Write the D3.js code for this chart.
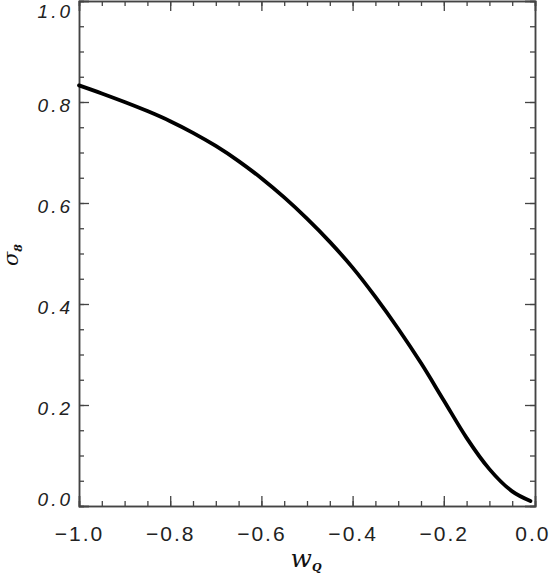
<!DOCTYPE html>
<html>
<head>
<meta charset="utf-8">
<script src="https://cdn.jsdelivr.net/npm/d3@7"></script>
<style>
  html, body { margin: 0; padding: 0; background: #fff; }
  svg { display: block; }
  .tick text { font-family: "Liberation Sans", Arial, sans-serif; fill: #222; }
</style>
</head>
<body>
<div id="chart"></div>
<script>
// sigma_8 against w_Q
var wValues = [-1.00, -0.95, -0.90, -0.85, -0.80, -0.75, -0.70, -0.65, -0.60, -0.55,
               -0.50, -0.45, -0.40, -0.35, -0.30, -0.25, -0.20, -0.15, -0.10, -0.05, -0.01];
var sigma8 = [0.833, 0.817, 0.800, 0.782, 0.762, 0.739, 0.713, 0.683, 0.649, 0.611,
              0.569, 0.523, 0.472, 0.414, 0.351, 0.283, 0.209, 0.135, 0.073, 0.029, 0.010];

var xMajor = [-1.0, -0.8, -0.6, -0.4, -0.2, 0.0];
var yMajor = [0.0, 0.2, 0.4, 0.6, 0.8, 1.0];

var W = 551, H = 576;
var margin = { left: 79, right: 16, top: 1, bottom: 70 };

var svg = d3.select('#chart').append('svg')
    .attr('width', W).attr('height', H);

var x = d3.scaleLinear().domain([-1, 0]).range([margin.left, W - margin.right]);
var y = d3.scaleLinear().domain([0, 1]).range([H - margin.bottom, margin.top]);

var fmt = d3.format('.1f');
var xMinor = d3.range(-1, 0.001, 0.05);
var yMinor = d3.range(0, 1.001, 0.05);

function styleAxis(g) {
    g.select('.domain').attr('stroke', '#444').attr('stroke-width', 1.5);
    g.selectAll('.tick line').attr('stroke', '#444').attr('stroke-width', 1.3);
}

// Minor ticks on all four sides
svg.append('g').attr('transform', 'translate(0,' + y(0) + ')')
    .call(d3.axisBottom(x).tickValues(xMinor).tickSize(-5).tickFormat(''))
    .call(styleAxis);
svg.append('g').attr('transform', 'translate(0,' + y(1) + ')')
    .call(d3.axisTop(x).tickValues(xMinor).tickSize(-5).tickFormat(''))
    .call(styleAxis);
svg.append('g').attr('transform', 'translate(' + x(-1) + ',0)')
    .call(d3.axisLeft(y).tickValues(yMinor).tickSize(-5).tickFormat(''))
    .call(styleAxis);
svg.append('g').attr('transform', 'translate(' + x(0) + ',0)')
    .call(d3.axisRight(y).tickValues(yMinor).tickSize(-5).tickFormat(''))
    .call(styleAxis);

// Major ticks
var xAxis = svg.append('g').attr('transform', 'translate(0,' + y(0) + ')')
    .call(d3.axisBottom(x).tickValues(xMajor).tickSize(-10).tickPadding(20).tickFormat(fmt))
    .call(styleAxis);
xAxis.selectAll('.tick text')
    .attr('font-size', 21).attr('letter-spacing', '2px');
// the last label sits against the right edge of the window
xAxis.selectAll('.tick text').filter(function(d) { return d === 0; })
    .attr('text-anchor', 'end').attr('x', W - 1 - x(0));

svg.append('g').attr('transform', 'translate(0,' + y(1) + ')')
    .call(d3.axisTop(x).tickValues(xMajor).tickSize(-10).tickFormat(''))
    .call(styleAxis);

var yAxis = svg.append('g').attr('transform', 'translate(' + x(-1) + ',0)')
    .call(d3.axisLeft(y).tickValues(yMajor).tickSize(-10).tickPadding(6).tickFormat(fmt))
    .call(styleAxis);
yAxis.selectAll('.tick text')
    .attr('font-size', 19).attr('font-style', 'italic').attr('letter-spacing', '3px')
    .attr('dy', function(d) {
        if (d === 1) return '0.85em';
        if (d === 0) return '-0.05em';
        return '0.5em';
    });

svg.append('g').attr('transform', 'translate(' + x(0) + ',0)')
    .call(d3.axisRight(y).tickValues(yMajor).tickSize(-10).tickFormat(''))
    .call(styleAxis);

// Curve
var pts = wValues.map(function(w, i) { return [w, sigma8[i]]; });
var line = d3.line()
    .x(function(d) { return x(d[0]); })
    .y(function(d) { return y(d[1]); })
    .curve(d3.curveMonotoneX);

svg.append('path').datum(pts)
    .attr('d', line)
    .attr('fill', 'none')
    .attr('stroke', '#000')
    .attr('stroke-width', 3.8)
    .attr('stroke-linecap', 'round')
    .attr('stroke-linejoin', 'round');

// Axis titles
var xt = svg.append('text')
    .attr('x', 306).attr('y', 567)
    .attr('text-anchor', 'middle')
    .attr('font-family', '"DejaVu Serif", serif')
    .attr('font-style', 'italic')
    .attr('font-size', 25)
    .attr('fill', '#111');
xt.append('tspan').text('w');
xt.append('tspan').attr('dy', 4).attr('font-size', 11).attr('font-weight', 'bold').text('Q');

var yt = svg.append('text')
    .attr('transform', 'translate(18,255) rotate(-90)')
    .attr('text-anchor', 'middle')
    .attr('font-family', '"DejaVu Serif", serif')
    .attr('font-style', 'italic')
    .attr('font-size', 21)
    .attr('fill', '#111');
yt.append('tspan').text('σ');
yt.append('tspan').attr('dy', 4).attr('font-size', 11).attr('font-weight', 'bold').text('8');
</script>
</body>
</html>
